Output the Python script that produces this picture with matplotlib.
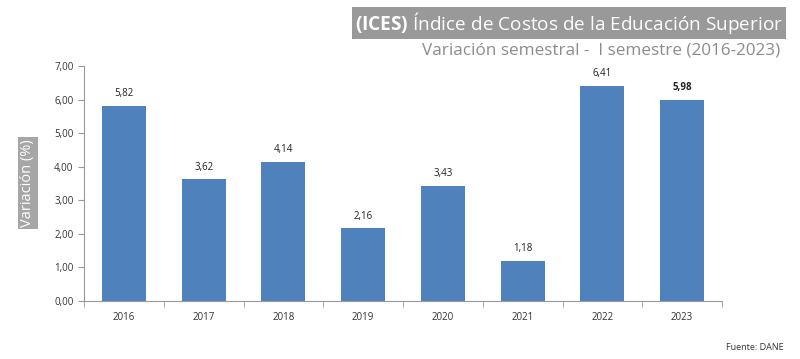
import matplotlib.pyplot as plt
from matplotlib.ticker import FuncFormatter

years = ["2016", "2017", "2018", "2019", "2020", "2021", "2022", "2023"]
values = [5.82, 3.62, 4.14, 2.16, 3.43, 1.18, 6.41, 5.98]
yticks = [0, 1, 2, 3, 4, 5, 6, 7]

plt.rcParams['font.family'] = ['Open Sans', 'DejaVu Sans']
plt.rcParams['mathtext.fontset'] = 'custom'
plt.rcParams['mathtext.bf'] = 'Open Sans:bold'
plt.rcParams['mathtext.rm'] = 'Open Sans'

fig = plt.figure(figsize=(8, 3.59), dpi=100)
ax = fig.add_axes([0.105, 0.1616, 0.7975, 0.6544])

x = range(len(years))
bars = ax.bar(x, values, width=0.55, color='#4F81BD', zorder=2)

ax.set_xlim(-0.5, len(years) - 0.5)
ax.set_ylim(0, 7)
ax.set_yticks(yticks)
ax.yaxis.set_major_formatter(FuncFormatter(lambda v, p: f"{v:.2f}".replace('.', ',')))
ax.set_xticks(list(x))
ax.set_xticklabels(years)
ax.set_xticks([i + 0.5 for i in range(-1, len(years))], minor=True)
ax.tick_params(axis='x', which='major', length=0, labelsize=7, pad=8, colors='#333333')
ax.tick_params(axis='x', which='minor', length=4, color='#999999')
ax.tick_params(axis='y', length=4, color='#999999', labelsize=7, labelcolor='#333333')

for s in ['top', 'right']:
    ax.spines[s].set_visible(False)
for s in ['left', 'bottom']:
    ax.spines[s].set_color('#999999')
    ax.spines[s].set_linewidth(0.8)

for i, v in enumerate(values):
    lbl = f"{v:.2f}".replace('.', ',')
    ax.annotate(lbl, (i, v), xytext=(0, 5), textcoords='offset points',
                ha='center', va='bottom', fontsize=7, color='#222222',
                fontweight='bold' if i == len(values) - 1 else 'normal')

fig.text(0.979, 0.935, r"$\bf{(ICES)}$ Índice de Costos de la Educación Superior",
         ha='right', va='center', fontsize=13.7, color='white',
         bbox=dict(boxstyle='square,pad=0.15', facecolor='#999999', edgecolor='none'))
fig.text(0.975, 0.858, "Variación semestral -  I semestre (2016-2023)",
         ha='right', va='center', fontsize=12.3, color='#8c8c8c')

fig.text(0.035, 0.49, "Variación (%)", rotation=90, ha='center', va='center',
         fontsize=10.5, color='white',
         bbox=dict(boxstyle='square,pad=0.15', facecolor='#a6a6a6', edgecolor='none'))

fig.text(0.98, 0.02, "Fuente: DANE", ha='right', va='bottom', fontsize=6.5, color='#333333')

fig.savefig('out.png', dpi=100)
